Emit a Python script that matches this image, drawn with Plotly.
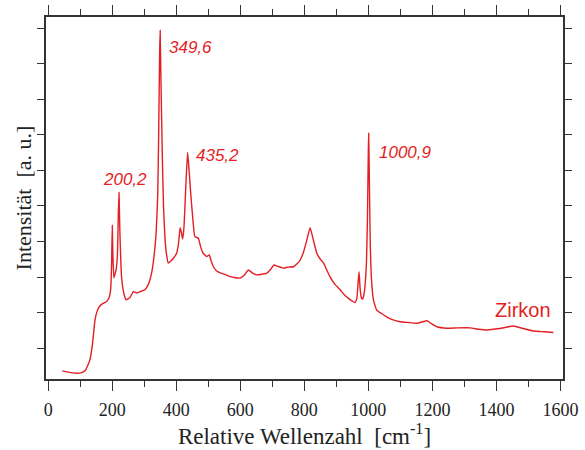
import plotly.graph_objects as go

wavenumber = [44, 70, 89, 105, 115, 122, 130, 138, 146, 152, 160, 170, 182, 190, 195, 198, 200, 202, 205, 209,
              212, 216, 219, 221, 224, 229, 236, 243, 255, 266, 277, 290, 302, 313, 323, 330, 337, 342, 345, 348,
              349.6, 352, 356, 360, 365, 370, 375, 383, 391, 401, 407, 412, 416, 420, 424, 427, 431, 435.5, 440, 445,
              451, 458, 469, 476, 484, 495, 503, 509, 516, 525, 537, 550, 568, 585, 599, 612, 625, 637, 651, 667,
              683, 695, 705, 718, 734, 750, 766, 778, 787, 798, 808, 818, 828, 839, 850, 859, 870, 880, 895, 912,
              925, 938, 950, 958, 964, 968, 971, 974, 978, 982, 986, 990, 994, 997, 1000, 1001, 1003, 1006, 1010, 1016,
              1026, 1040, 1057, 1075, 1099, 1125, 1151, 1170, 1183, 1198, 1214, 1245, 1280, 1318, 1345, 1370, 1410, 1453,
              1480, 1516, 1550, 1578]
intensity = [0.36, 0.31, 0.29, 0.31, 0.36, 0.48, 0.67, 1.1, 1.79, 2.02, 2.17, 2.25, 2.31, 2.42, 2.65, 3.4, 4.45, 3.6, 2.98, 3.1,
             3.2, 3.6, 4.8, 5.38, 4.2, 3.01, 2.55, 2.36, 2.42, 2.59, 2.55, 2.6, 2.64, 2.8, 3.12, 3.55, 4.24, 5.3, 7.06, 9.3,
             9.94, 8.6, 6.58, 5.0, 4.05, 3.6, 3.39, 3.45, 3.53, 3.67, 3.95, 4.39, 4.25, 4.07, 4.4, 4.98, 5.8, 6.51, 6.0, 5.36,
             4.7, 4.14, 4.09, 3.85, 3.67, 3.58, 3.62, 3.45, 3.29, 3.18, 3.12, 3.08, 3.01, 2.98, 2.97, 3.05, 3.2, 3.12, 3.06, 3.08,
             3.11, 3.22, 3.34, 3.3, 3.25, 3.28, 3.29, 3.38, 3.48, 3.72, 4.05, 4.39, 4.05, 3.67, 3.5, 3.41, 3.2, 3.01, 2.8, 2.64,
             2.5, 2.40, 2.32, 2.28, 2.4, 2.85, 3.15, 2.7, 2.42, 2.38, 2.5, 2.8, 3.4, 4.6, 6.6, 7.05, 5.8, 3.9, 2.9, 2.35,
             2.07, 1.98, 1.88, 1.8, 1.74, 1.72, 1.70, 1.74, 1.77, 1.68, 1.60, 1.56, 1.57, 1.57, 1.53, 1.51, 1.55, 1.62,
             1.56, 1.48, 1.46, 1.44]

peak_labels = ["200,2", "349,6", "435,2", "1000,9"]
peak_label_x = [241, 443, 530, 1115]
peak_label_y = [5.74, 9.45, 6.41, 6.52]
sample_name = "Zirkon"
sample_x = 1482
sample_y = 2.07

x_tickvals = [0, 200, 400, 600, 800, 1000, 1200, 1400, 1600]
y_tickvals = [1, 2, 3, 4, 5, 6, 7, 8, 9, 10]

RED = "#e31e24"
AXIS = "#333333"
SERIF = "Liberation Serif"

fig = go.Figure()
fig.add_trace(go.Scatter(x=wavenumber, y=intensity, mode="lines", line_shape="spline",
                         line=dict(color=RED, width=1.4, smoothing=0.4), showlegend=False, hoverinfo="skip"))

for t, x, y in zip(peak_labels, peak_label_x, peak_label_y):
    fig.add_annotation(x=x, y=y, text="<i>" + t + "</i>", showarrow=False,
                       font=dict(family="Liberation Sans", size=17, color=RED),
                       xanchor="center", yanchor="middle")
fig.add_annotation(x=sample_x, y=sample_y, text=sample_name, showarrow=False,
                   font=dict(family="Liberation Sans", size=20, color=RED),
                   xanchor="center", yanchor="middle")

fig.update_layout(
    width=585, height=450,
    margin=dict(l=46, r=22, t=17, b=71),
    paper_bgcolor="white", plot_bgcolor="white",
    font=dict(family=SERIF, color="#222222"),
    xaxis=dict(range=[-7, 1608], tickvals=x_tickvals, ticks="outside", ticklen=10, tickwidth=1.3,
               tickcolor=AXIS, showline=True, linecolor=AXIS, linewidth=1.5, mirror="ticks",
               showgrid=False, zeroline=False, automargin=False, ticklabelstandoff=4,
               minor=dict(dtick=100, tick0=0, ticks="outside", ticklen=6, tickwidth=1.3, tickcolor=AXIS, showgrid=False),
               tickfont=dict(family=SERIF, size=18, color="#222222"),
               title=dict(text="Relative Wellenzahl  [cm<sup>-1</sup>]", font=dict(family=SERIF, size=23, color="#222222"),
                          standoff=8)),
    yaxis=dict(range=[0.13, 10.32], tickvals=y_tickvals, ticks="outside", ticklen=7, tickwidth=1.3,
               tickcolor=AXIS, showline=True, linecolor=AXIS, linewidth=1.5, mirror="ticks",
               showgrid=False, zeroline=False, showticklabels=False, automargin=False,
               title=dict(text="Intensität  [a. u.]", font=dict(family=SERIF, size=22, color="#222222"),
                          standoff=0)),
)

fig.write_html("out.html")
